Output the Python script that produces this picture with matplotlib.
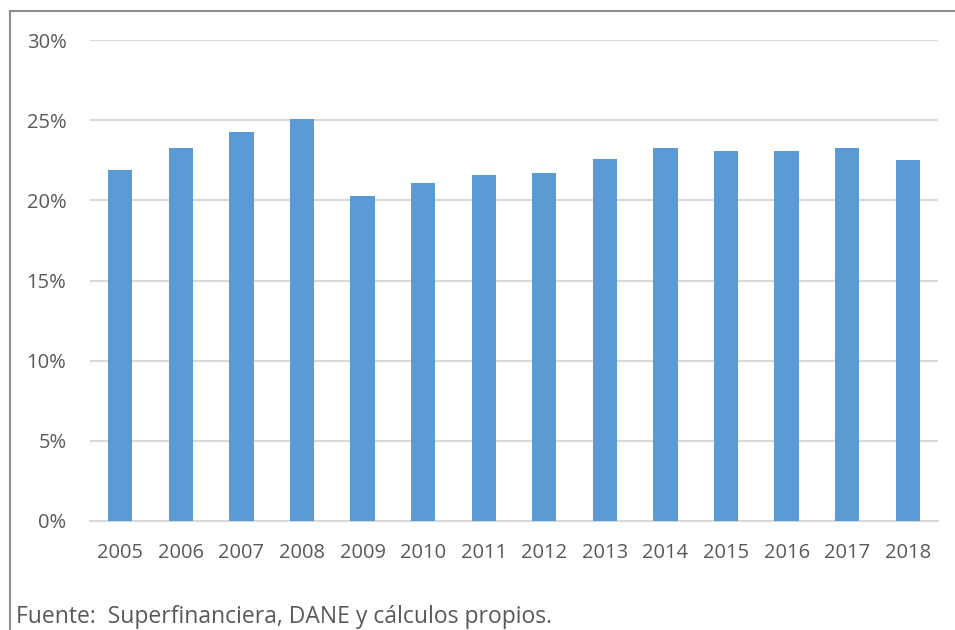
import matplotlib
matplotlib.use("Agg")
import matplotlib.pyplot as plt
from matplotlib.lines import Line2D
from matplotlib.ticker import FuncFormatter

years = ["2005", "2006", "2007", "2008", "2009", "2010", "2011",
         "2012", "2013", "2014", "2015", "2016", "2017", "2018"]
shares = [21.9, 23.25, 24.25, 25.05, 20.3, 21.05, 21.55,
          21.7, 22.6, 23.25, 23.1, 23.1, 23.25, 22.5]
y_ticks = [0, 5, 10, 15, 20, 25, 30]

plt.rcParams['font.family'] = ['Open Sans', 'DejaVu Sans']
text_color = '#595959'

W, H = 955, 630
fig = plt.figure(figsize=(W / 100, H / 100), dpi=100)
ax = fig.add_axes([90 / W, 1 - 521 / H, (938 - 90) / W, (521 - 40) / H])

x = range(len(years))
ax.bar(x, shares, width=0.4, color='#5B9BD5', zorder=3)

ax.set_xlim(-0.5, len(years) - 0.5)
ax.set_ylim(0, 30)
ax.set_yticks(y_ticks)
ax.yaxis.set_major_formatter(FuncFormatter(lambda v, p: f"{v:.0f}%"))
ax.set_xticks(list(x))
ax.set_xticklabels(years)
ax.grid(axis='y', color='#D9D9D9', linewidth=1.5, zorder=0)
ax.tick_params(axis='both', length=0, labelsize=14.5, colors=text_color)
ax.tick_params(axis='x', pad=16)
ax.tick_params(axis='y', pad=17)
for side in ['top', 'right', 'left']:
    ax.spines[side].set_visible(False)
ax.spines['bottom'].set_color('#D9D9D9')
ax.spines['bottom'].set_linewidth(1.5)

# outer frame (left and top edges only visible in the crop)
fig.add_artist(Line2D([10 / W, 10 / W], [0, 1 - 11 / H], transform=fig.transFigure,
                      color='#8C8C8C', linewidth=1.5))
fig.add_artist(Line2D([10 / W, 1], [1 - 11 / H, 1 - 11 / H], transform=fig.transFigure,
                      color='#8C8C8C', linewidth=1.5))

fig.text(16 / W, 1 - 623 / H, "Fuente:  Superfinanciera, DANE y cálculos propios.",
         fontsize=16.5, color=text_color, va='baseline', ha='left')

fig.savefig("out.png", dpi=100)
